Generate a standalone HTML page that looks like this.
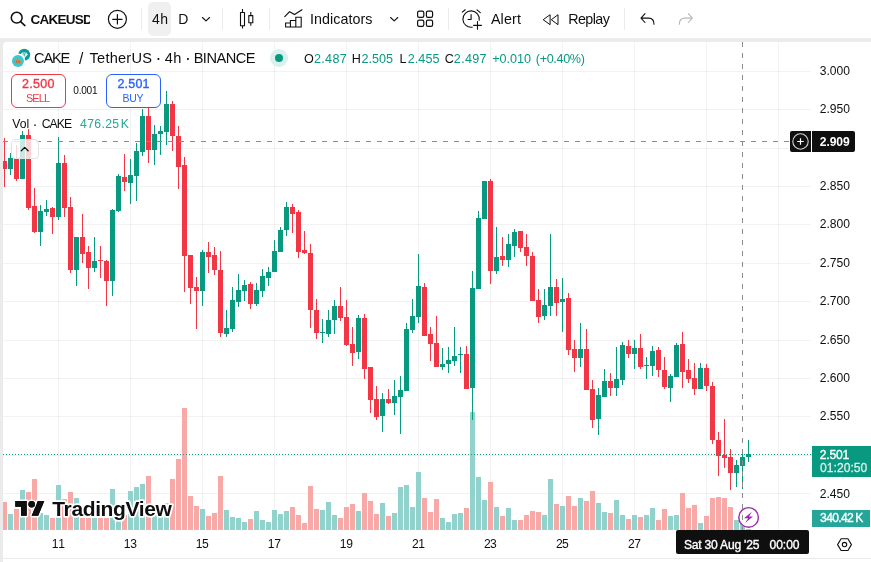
<!DOCTYPE html>
<html lang="en">
<head>
<meta charset="utf-8">
<title>CAKEUSDT 4h chart</title>
<style>
html,body{margin:0;padding:0;}
body{width:871px;height:562px;overflow:hidden;background:#EBEBEB;position:relative;font-family:"Liberation Sans",sans-serif;color:#0F0F0F;}
.abs{position:absolute;white-space:nowrap;}
#toolbar{position:absolute;left:0;top:0;width:871px;height:38px;background:#fff;}
#pane{position:absolute;left:3px;top:42px;width:868px;height:520px;background:#fff;border-top-left-radius:4px;}
#chart{position:absolute;left:0;top:0;}
.tb{position:absolute;top:.6px;height:38px;line-height:38px;font-size:14px;color:#0F0F0F;}
.sep{position:absolute;top:8px;width:1px;height:22px;background:#EBEBEB;}
.ax{position:absolute;left:820px;font-size:12px;line-height:14px;color:#0F0F0F;}
.tl{position:absolute;top:537px;width:40px;margin-left:-20px;text-align:center;font-size:12px;line-height:14px;color:#0F0F0F;}
.lg{position:absolute;top:50px;height:16px;line-height:16px;font-size:13px;white-space:nowrap;}
.t{position:absolute;white-space:nowrap;color:#0F0F0F;}
</style>
</head>
<body>
<div id="toolbar">
  <svg class="abs" style="left:0;top:0" width="871" height="38" viewBox="0 0 871 38" fill="none" stroke="#0F0F0F" stroke-width="1.3" stroke-linecap="round" stroke-linejoin="round">
    <!-- search -->
    <circle cx="16.7" cy="17.7" r="5.4" stroke-width="1.5"/>
    <path d="M20.600 21.600L24.900 25.600" stroke-width="1.500"/>
    <!-- plus circle -->
    <circle cx="117.4" cy="19.3" r="9" stroke-width="1.2"/>
    <path d="M112.7 19.3h9.4M117.4 14.6v9.4" stroke-width="1.2"/>
    <!-- chevron 1 -->
    <path d="M202.400 17.500l3.600 3.300 3.600-3.300" stroke-width="1.100"/>
    <!-- candles icon -->
    <path d="M242.500 9v3.400M242.500 25.800v2.600M250.800 12v3.500M250.800 22.900v2.900" stroke-width="1.100" stroke-linecap="butt"/>
    <rect x="240.500" y="12.500" width="4" height="13.200" stroke-width="1.100"/>
    <rect x="248.800" y="15.600" width="4" height="7.200" stroke-width="1.100"/>
    <!-- indicators icon -->
    <path d="M284.8 16.6l4.8-4.9 4.9 2.9 7.5-4.8" stroke-width="1.2"/>
    <path d="M285.600 27v-4h4.800v4zM290.400 27v-6.500h5.400V27zM295.800 27v-9.800h5.400V27z" stroke-width="1.100" stroke-linejoin="miter"/>
    <!-- chevron 2 -->
    <path d="M390.600 17.500l3.600 3.300 3.600-3.300" stroke-width="1.100"/>
    <!-- layout icon -->
    <rect x="417.6" y="11.2" width="6.2" height="6.2" rx="1.6" stroke-width="1.2"/>
    <rect x="426.4" y="11.2" width="6.2" height="6.2" rx="1.6" stroke-width="1.2"/>
    <rect x="417.6" y="20.2" width="6.2" height="6.2" rx="1.6" stroke-width="1.2"/>
    <rect x="426.4" y="20.2" width="6.2" height="6.2" rx="1.6" stroke-width="1.2"/>
    <!-- alert icon -->
    <path d="M479.200 20.300A8.200 8.200 0 1 0 472.300 27.200" stroke-width="1.100"/>
    <path d="M471.100 14.600v4.900h-3M462.300 12.100l2.900-2.300M477 9.800l3.300 2.900" stroke-width="1.100"/>
    <path d="M473.600 25.400h7.800M477.500 21.500v7.800" stroke-width="1.100"/>
    <!-- replay icon -->
    <path d="M543.500 19.500l6.600-4.800v9.600zM551.600 19.500l6.400-4.800v9.600z" stroke-width="1"/>
    <!-- undo -->
    <path d="M645 13.7l-4 4.4 4 4.4M641.3 18.1h7.4c3.200 0 5.300 2.200 5.300 6.200" stroke-width="1.100"/>
    <!-- redo -->
    <path d="M688.3 13.7l4 4.4-4 4.4M692 18.1h-7.4c-3.200 0-5.300 2.200-5.300 6.200" stroke-width="1.100" stroke="#B8B8B8"/>
  </svg>
  <div class="sep" style="left:141px"></div>
  <div class="abs" style="left:148px;top:2px;width:23px;height:33.500px;border-radius:5px;background:#F0F0F0;"></div>
  <div class="sep" style="left:222px"></div>
  <div class="sep" style="left:269px"></div>
  <div class="sep" style="left:448px"></div>
  <div class="sep" style="left:624px"></div>
</div>
<div id="pane"></div>
<svg id="chart" width="871" height="562" viewBox="0 0 871 562" shape-rendering="crispEdges">
<rect x="3" y="71" width="808" height="1" fill="#000" fill-opacity=".052"/>
<rect x="3" y="109" width="808" height="1" fill="#000" fill-opacity=".052"/>
<rect x="3" y="148" width="808" height="1" fill="#000" fill-opacity=".052"/>
<rect x="3" y="186" width="808" height="1" fill="#000" fill-opacity=".052"/>
<rect x="3" y="224" width="808" height="1" fill="#000" fill-opacity=".052"/>
<rect x="3" y="263" width="808" height="1" fill="#000" fill-opacity=".052"/>
<rect x="3" y="301" width="808" height="1" fill="#000" fill-opacity=".052"/>
<rect x="3" y="340" width="808" height="1" fill="#000" fill-opacity=".052"/>
<rect x="3" y="378" width="808" height="1" fill="#000" fill-opacity=".052"/>
<rect x="3" y="416" width="808" height="1" fill="#000" fill-opacity=".052"/>
<rect x="3" y="455" width="808" height="1" fill="#000" fill-opacity=".052"/>
<rect x="3" y="493" width="808" height="1" fill="#000" fill-opacity=".052"/>
<rect x="58" y="42" width="1" height="488" fill="#000" fill-opacity=".052"/>
<rect x="130" y="42" width="1" height="488" fill="#000" fill-opacity=".052"/>
<rect x="202" y="42" width="1" height="488" fill="#000" fill-opacity=".052"/>
<rect x="274" y="42" width="1" height="488" fill="#000" fill-opacity=".052"/>
<rect x="346" y="42" width="1" height="488" fill="#000" fill-opacity=".052"/>
<rect x="418" y="42" width="1" height="488" fill="#000" fill-opacity=".052"/>
<rect x="490" y="42" width="1" height="488" fill="#000" fill-opacity=".052"/>
<rect x="562" y="42" width="1" height="488" fill="#000" fill-opacity=".052"/>
<rect x="634" y="42" width="1" height="488" fill="#000" fill-opacity=".052"/>
<rect x="706" y="42" width="1" height="488" fill="#000" fill-opacity=".052"/>
<rect x="778" y="42" width="1" height="488" fill="#000" fill-opacity=".052"/>
<rect x="3" y="502" width="4" height="28" fill="#F7A9A7"/>
<rect x="8" y="514" width="5" height="16" fill="#92D2CC"/>
<rect x="14" y="509" width="5" height="21" fill="#F7A9A7"/>
<rect x="20" y="490" width="5" height="40" fill="#92D2CC"/>
<rect x="26" y="492" width="5" height="38" fill="#F7A9A7"/>
<rect x="32" y="479" width="5" height="51" fill="#F7A9A7"/>
<rect x="38" y="513" width="5" height="17" fill="#92D2CC"/>
<rect x="44" y="515" width="5" height="15" fill="#92D2CC"/>
<rect x="50" y="518" width="5" height="12" fill="#F7A9A7"/>
<rect x="56" y="485" width="5" height="45" fill="#92D2CC"/>
<rect x="62" y="499" width="5" height="31" fill="#F7A9A7"/>
<rect x="68" y="492" width="5" height="38" fill="#F7A9A7"/>
<rect x="74" y="498" width="5" height="32" fill="#92D2CC"/>
<rect x="80" y="518" width="5" height="12" fill="#F7A9A7"/>
<rect x="86" y="518" width="5" height="12" fill="#F7A9A7"/>
<rect x="92" y="518" width="5" height="12" fill="#92D2CC"/>
<rect x="98" y="518" width="5" height="12" fill="#F7A9A7"/>
<rect x="104" y="518" width="5" height="12" fill="#F7A9A7"/>
<rect x="110" y="489" width="5" height="41" fill="#92D2CC"/>
<rect x="116" y="520" width="5" height="10" fill="#92D2CC"/>
<rect x="122" y="515" width="5" height="15" fill="#F7A9A7"/>
<rect x="128" y="491" width="5" height="39" fill="#92D2CC"/>
<rect x="134" y="487" width="5" height="43" fill="#92D2CC"/>
<rect x="140" y="484" width="5" height="46" fill="#92D2CC"/>
<rect x="146" y="476" width="5" height="54" fill="#F7A9A7"/>
<rect x="152" y="505" width="5" height="25" fill="#92D2CC"/>
<rect x="158" y="505" width="5" height="25" fill="#92D2CC"/>
<rect x="164" y="503" width="5" height="27" fill="#92D2CC"/>
<rect x="170" y="479" width="5" height="51" fill="#F7A9A7"/>
<rect x="176" y="459" width="5" height="71" fill="#F7A9A7"/>
<rect x="182" y="408" width="5" height="122" fill="#F7A9A7"/>
<rect x="188" y="496" width="5" height="34" fill="#F7A9A7"/>
<rect x="194" y="506" width="5" height="24" fill="#F7A9A7"/>
<rect x="200" y="509" width="5" height="21" fill="#92D2CC"/>
<rect x="206" y="516" width="5" height="14" fill="#F7A9A7"/>
<rect x="212" y="513" width="5" height="17" fill="#F7A9A7"/>
<rect x="218" y="476" width="5" height="54" fill="#F7A9A7"/>
<rect x="224" y="510" width="5" height="20" fill="#92D2CC"/>
<rect x="230" y="517" width="5" height="13" fill="#92D2CC"/>
<rect x="236" y="518" width="5" height="12" fill="#92D2CC"/>
<rect x="242" y="522" width="5" height="8" fill="#92D2CC"/>
<rect x="248" y="519" width="5" height="11" fill="#F7A9A7"/>
<rect x="254" y="511" width="5" height="19" fill="#92D2CC"/>
<rect x="260" y="520" width="5" height="10" fill="#92D2CC"/>
<rect x="266" y="522" width="5" height="8" fill="#92D2CC"/>
<rect x="272" y="510" width="5" height="20" fill="#92D2CC"/>
<rect x="278" y="514" width="5" height="16" fill="#92D2CC"/>
<rect x="284" y="511" width="5" height="19" fill="#92D2CC"/>
<rect x="290" y="507" width="5" height="23" fill="#F7A9A7"/>
<rect x="296" y="515" width="5" height="15" fill="#F7A9A7"/>
<rect x="302" y="523" width="5" height="7" fill="#F7A9A7"/>
<rect x="308" y="486" width="5" height="44" fill="#F7A9A7"/>
<rect x="314" y="509" width="5" height="21" fill="#F7A9A7"/>
<rect x="320" y="510" width="5" height="20" fill="#92D2CC"/>
<rect x="326" y="502" width="5" height="28" fill="#92D2CC"/>
<rect x="332" y="515" width="5" height="15" fill="#92D2CC"/>
<rect x="338" y="518" width="5" height="12" fill="#F7A9A7"/>
<rect x="344" y="507" width="5" height="23" fill="#F7A9A7"/>
<rect x="350" y="504" width="5" height="26" fill="#F7A9A7"/>
<rect x="356" y="511" width="5" height="19" fill="#92D2CC"/>
<rect x="362" y="493" width="5" height="37" fill="#F7A9A7"/>
<rect x="368" y="501" width="5" height="29" fill="#F7A9A7"/>
<rect x="374" y="514" width="5" height="16" fill="#F7A9A7"/>
<rect x="380" y="503" width="5" height="27" fill="#92D2CC"/>
<rect x="386" y="516" width="5" height="14" fill="#F7A9A7"/>
<rect x="392" y="513" width="5" height="17" fill="#92D2CC"/>
<rect x="398" y="487" width="5" height="43" fill="#92D2CC"/>
<rect x="404" y="485" width="5" height="45" fill="#92D2CC"/>
<rect x="410" y="507" width="5" height="23" fill="#92D2CC"/>
<rect x="416" y="472" width="5" height="58" fill="#92D2CC"/>
<rect x="422" y="498" width="5" height="32" fill="#F7A9A7"/>
<rect x="428" y="512" width="5" height="18" fill="#F7A9A7"/>
<rect x="434" y="499" width="5" height="31" fill="#F7A9A7"/>
<rect x="440" y="518" width="5" height="12" fill="#92D2CC"/>
<rect x="446" y="522" width="5" height="8" fill="#92D2CC"/>
<rect x="452" y="514" width="5" height="16" fill="#92D2CC"/>
<rect x="458" y="513" width="5" height="17" fill="#92D2CC"/>
<rect x="464" y="508" width="5" height="22" fill="#F7A9A7"/>
<rect x="470" y="412" width="5" height="118" fill="#92D2CC"/>
<rect x="476" y="477" width="5" height="53" fill="#92D2CC"/>
<rect x="482" y="500" width="5" height="30" fill="#92D2CC"/>
<rect x="488" y="482" width="5" height="48" fill="#F7A9A7"/>
<rect x="494" y="507" width="5" height="23" fill="#92D2CC"/>
<rect x="500" y="516" width="5" height="14" fill="#F7A9A7"/>
<rect x="506" y="508" width="5" height="22" fill="#92D2CC"/>
<rect x="512" y="520" width="5" height="10" fill="#92D2CC"/>
<rect x="518" y="520" width="5" height="10" fill="#F7A9A7"/>
<rect x="524" y="515" width="5" height="15" fill="#F7A9A7"/>
<rect x="530" y="511" width="5" height="19" fill="#F7A9A7"/>
<rect x="536" y="512" width="5" height="18" fill="#F7A9A7"/>
<rect x="542" y="515" width="5" height="15" fill="#92D2CC"/>
<rect x="548" y="479" width="5" height="51" fill="#92D2CC"/>
<rect x="554" y="504" width="5" height="26" fill="#F7A9A7"/>
<rect x="560" y="506" width="5" height="24" fill="#92D2CC"/>
<rect x="566" y="496" width="5" height="34" fill="#F7A9A7"/>
<rect x="572" y="506" width="5" height="24" fill="#F7A9A7"/>
<rect x="578" y="498" width="5" height="32" fill="#92D2CC"/>
<rect x="584" y="501" width="5" height="29" fill="#F7A9A7"/>
<rect x="590" y="491" width="5" height="39" fill="#F7A9A7"/>
<rect x="596" y="503" width="5" height="27" fill="#92D2CC"/>
<rect x="602" y="512" width="5" height="18" fill="#92D2CC"/>
<rect x="608" y="513" width="5" height="17" fill="#F7A9A7"/>
<rect x="614" y="500" width="5" height="30" fill="#92D2CC"/>
<rect x="620" y="515" width="5" height="15" fill="#92D2CC"/>
<rect x="626" y="519" width="5" height="11" fill="#F7A9A7"/>
<rect x="632" y="515" width="5" height="15" fill="#92D2CC"/>
<rect x="638" y="517" width="5" height="13" fill="#F7A9A7"/>
<rect x="644" y="515" width="5" height="15" fill="#92D2CC"/>
<rect x="650" y="508" width="5" height="22" fill="#92D2CC"/>
<rect x="656" y="520" width="5" height="10" fill="#F7A9A7"/>
<rect x="662" y="509" width="5" height="21" fill="#F7A9A7"/>
<rect x="668" y="516" width="5" height="14" fill="#92D2CC"/>
<rect x="674" y="515" width="5" height="15" fill="#92D2CC"/>
<rect x="680" y="493" width="5" height="37" fill="#F7A9A7"/>
<rect x="686" y="508" width="5" height="22" fill="#F7A9A7"/>
<rect x="692" y="505" width="5" height="25" fill="#F7A9A7"/>
<rect x="698" y="523" width="5" height="7" fill="#92D2CC"/>
<rect x="704" y="516" width="5" height="14" fill="#F7A9A7"/>
<rect x="710" y="498" width="5" height="32" fill="#F7A9A7"/>
<rect x="716" y="497" width="5" height="33" fill="#F7A9A7"/>
<rect x="722" y="498" width="5" height="32" fill="#F7A9A7"/>
<rect x="728" y="507" width="5" height="23" fill="#F7A9A7"/>
<rect x="734" y="520" width="5" height="10" fill="#92D2CC"/>
<rect x="740" y="513" width="5" height="17" fill="#92D2CC"/>
<rect x="746" y="529" width="5" height="1" fill="#92D2CC"/>
<rect x="4" y="138" width="1" height="49" fill="#F23645"/>
<rect x="3" y="161" width="4" height="8" fill="#F23645"/>
<rect x="10" y="153" width="1" height="22" fill="#089981"/>
<rect x="8" y="158" width="5" height="11" fill="#089981"/>
<rect x="16" y="145" width="1" height="36" fill="#F23645"/>
<rect x="14" y="158" width="5" height="21" fill="#F23645"/>
<rect x="22" y="131" width="1" height="48" fill="#089981"/>
<rect x="20" y="135" width="5" height="44" fill="#089981"/>
<rect x="28" y="129" width="1" height="81" fill="#F23645"/>
<rect x="26" y="135" width="5" height="73" fill="#F23645"/>
<rect x="34" y="188" width="1" height="45" fill="#F23645"/>
<rect x="32" y="206" width="5" height="26" fill="#F23645"/>
<rect x="40" y="205" width="1" height="41" fill="#089981"/>
<rect x="38" y="211" width="5" height="21" fill="#089981"/>
<rect x="46" y="200" width="1" height="16" fill="#089981"/>
<rect x="44" y="209" width="5" height="3" fill="#089981"/>
<rect x="52" y="207" width="1" height="27" fill="#F23645"/>
<rect x="50" y="208" width="5" height="9" fill="#F23645"/>
<rect x="58" y="137" width="1" height="83" fill="#089981"/>
<rect x="56" y="163" width="5" height="54" fill="#089981"/>
<rect x="64" y="155" width="1" height="62" fill="#F23645"/>
<rect x="62" y="163" width="5" height="45" fill="#F23645"/>
<rect x="70" y="197" width="1" height="76" fill="#F23645"/>
<rect x="68" y="207" width="5" height="63" fill="#F23645"/>
<rect x="76" y="237" width="1" height="49" fill="#089981"/>
<rect x="74" y="237" width="5" height="33" fill="#089981"/>
<rect x="82" y="214" width="1" height="49" fill="#F23645"/>
<rect x="80" y="237" width="5" height="17" fill="#F23645"/>
<rect x="88" y="246" width="1" height="43" fill="#F23645"/>
<rect x="86" y="252" width="5" height="16" fill="#F23645"/>
<rect x="94" y="237" width="1" height="35" fill="#089981"/>
<rect x="92" y="261" width="5" height="7" fill="#089981"/>
<rect x="100" y="246" width="1" height="32" fill="#F23645"/>
<rect x="98" y="260" width="5" height="1" fill="#F23645"/>
<rect x="106" y="260" width="1" height="46" fill="#F23645"/>
<rect x="104" y="261" width="5" height="20" fill="#F23645"/>
<rect x="112" y="209" width="1" height="87" fill="#089981"/>
<rect x="110" y="210" width="5" height="71" fill="#089981"/>
<rect x="118" y="174" width="1" height="38" fill="#089981"/>
<rect x="116" y="176" width="5" height="35" fill="#089981"/>
<rect x="124" y="154" width="1" height="37" fill="#F23645"/>
<rect x="122" y="177" width="5" height="5" fill="#F23645"/>
<rect x="130" y="159" width="1" height="45" fill="#089981"/>
<rect x="128" y="175" width="5" height="8" fill="#089981"/>
<rect x="136" y="143" width="1" height="58" fill="#089981"/>
<rect x="134" y="151" width="5" height="25" fill="#089981"/>
<rect x="142" y="109" width="1" height="47" fill="#089981"/>
<rect x="140" y="116" width="5" height="36" fill="#089981"/>
<rect x="148" y="108" width="1" height="55" fill="#F23645"/>
<rect x="146" y="116" width="5" height="34" fill="#F23645"/>
<rect x="154" y="125" width="1" height="40" fill="#089981"/>
<rect x="152" y="134" width="5" height="16" fill="#089981"/>
<rect x="160" y="126" width="1" height="29" fill="#089981"/>
<rect x="158" y="131" width="5" height="3" fill="#089981"/>
<rect x="166" y="91" width="1" height="54" fill="#089981"/>
<rect x="164" y="104" width="5" height="28" fill="#089981"/>
<rect x="172" y="101" width="1" height="50" fill="#F23645"/>
<rect x="170" y="104" width="5" height="32" fill="#F23645"/>
<rect x="178" y="126" width="1" height="63" fill="#F23645"/>
<rect x="176" y="136" width="5" height="31" fill="#F23645"/>
<rect x="184" y="157" width="1" height="135" fill="#F23645"/>
<rect x="182" y="165" width="5" height="91" fill="#F23645"/>
<rect x="190" y="255" width="1" height="49" fill="#F23645"/>
<rect x="188" y="255" width="5" height="33" fill="#F23645"/>
<rect x="196" y="277" width="1" height="52" fill="#F23645"/>
<rect x="194" y="287" width="5" height="4" fill="#F23645"/>
<rect x="202" y="250" width="1" height="56" fill="#089981"/>
<rect x="200" y="252" width="5" height="39" fill="#089981"/>
<rect x="208" y="242" width="1" height="31" fill="#F23645"/>
<rect x="206" y="252" width="5" height="5" fill="#F23645"/>
<rect x="214" y="247" width="1" height="28" fill="#F23645"/>
<rect x="212" y="255" width="5" height="15" fill="#F23645"/>
<rect x="220" y="251" width="1" height="86" fill="#F23645"/>
<rect x="218" y="270" width="5" height="63" fill="#F23645"/>
<rect x="226" y="310" width="1" height="27" fill="#089981"/>
<rect x="224" y="328" width="5" height="6" fill="#089981"/>
<rect x="232" y="287" width="1" height="45" fill="#089981"/>
<rect x="230" y="300" width="5" height="29" fill="#089981"/>
<rect x="238" y="274" width="1" height="33" fill="#089981"/>
<rect x="236" y="290" width="5" height="12" fill="#089981"/>
<rect x="244" y="280" width="1" height="21" fill="#089981"/>
<rect x="242" y="285" width="5" height="6" fill="#089981"/>
<rect x="250" y="282" width="1" height="27" fill="#F23645"/>
<rect x="248" y="284" width="5" height="20" fill="#F23645"/>
<rect x="256" y="283" width="1" height="23" fill="#089981"/>
<rect x="254" y="290" width="5" height="14" fill="#089981"/>
<rect x="262" y="269" width="1" height="28" fill="#089981"/>
<rect x="260" y="276" width="5" height="15" fill="#089981"/>
<rect x="268" y="267" width="1" height="19" fill="#089981"/>
<rect x="266" y="272" width="5" height="6" fill="#089981"/>
<rect x="274" y="240" width="1" height="32" fill="#089981"/>
<rect x="272" y="251" width="5" height="21" fill="#089981"/>
<rect x="280" y="227" width="1" height="25" fill="#089981"/>
<rect x="278" y="230" width="5" height="22" fill="#089981"/>
<rect x="286" y="202" width="1" height="34" fill="#089981"/>
<rect x="284" y="207" width="5" height="23" fill="#089981"/>
<rect x="292" y="204" width="1" height="29" fill="#F23645"/>
<rect x="290" y="207" width="5" height="7" fill="#F23645"/>
<rect x="298" y="210" width="1" height="48" fill="#F23645"/>
<rect x="296" y="212" width="5" height="40" fill="#F23645"/>
<rect x="304" y="231" width="1" height="23" fill="#F23645"/>
<rect x="302" y="250" width="5" height="3" fill="#F23645"/>
<rect x="310" y="244" width="1" height="84" fill="#F23645"/>
<rect x="308" y="253" width="5" height="57" fill="#F23645"/>
<rect x="316" y="299" width="1" height="40" fill="#F23645"/>
<rect x="314" y="310" width="5" height="23" fill="#F23645"/>
<rect x="322" y="319" width="1" height="24" fill="#089981"/>
<rect x="320" y="332" width="5" height="1" fill="#089981"/>
<rect x="328" y="310" width="1" height="27" fill="#089981"/>
<rect x="326" y="320" width="5" height="14" fill="#089981"/>
<rect x="334" y="300" width="1" height="34" fill="#089981"/>
<rect x="332" y="306" width="5" height="14" fill="#089981"/>
<rect x="340" y="287" width="1" height="34" fill="#F23645"/>
<rect x="338" y="306" width="5" height="12" fill="#F23645"/>
<rect x="346" y="300" width="1" height="46" fill="#F23645"/>
<rect x="344" y="317" width="5" height="28" fill="#F23645"/>
<rect x="352" y="327" width="1" height="39" fill="#F23645"/>
<rect x="350" y="344" width="5" height="9" fill="#F23645"/>
<rect x="358" y="315" width="1" height="44" fill="#089981"/>
<rect x="356" y="318" width="5" height="34" fill="#089981"/>
<rect x="364" y="314" width="1" height="65" fill="#F23645"/>
<rect x="362" y="318" width="5" height="51" fill="#F23645"/>
<rect x="370" y="367" width="1" height="46" fill="#F23645"/>
<rect x="368" y="367" width="5" height="33" fill="#F23645"/>
<rect x="376" y="386" width="1" height="34" fill="#F23645"/>
<rect x="374" y="399" width="5" height="18" fill="#F23645"/>
<rect x="382" y="393" width="1" height="39" fill="#089981"/>
<rect x="380" y="399" width="5" height="17" fill="#089981"/>
<rect x="388" y="389" width="1" height="15" fill="#F23645"/>
<rect x="386" y="399" width="5" height="4" fill="#F23645"/>
<rect x="394" y="380" width="1" height="35" fill="#089981"/>
<rect x="392" y="396" width="5" height="7" fill="#089981"/>
<rect x="400" y="376" width="1" height="58" fill="#089981"/>
<rect x="398" y="390" width="5" height="7" fill="#089981"/>
<rect x="406" y="323" width="1" height="68" fill="#089981"/>
<rect x="404" y="329" width="5" height="62" fill="#089981"/>
<rect x="412" y="299" width="1" height="34" fill="#089981"/>
<rect x="410" y="316" width="5" height="14" fill="#089981"/>
<rect x="418" y="254" width="1" height="69" fill="#089981"/>
<rect x="416" y="286" width="5" height="31" fill="#089981"/>
<rect x="424" y="283" width="1" height="53" fill="#F23645"/>
<rect x="422" y="287" width="5" height="49" fill="#F23645"/>
<rect x="430" y="327" width="1" height="34" fill="#F23645"/>
<rect x="428" y="334" width="5" height="10" fill="#F23645"/>
<rect x="436" y="316" width="1" height="51" fill="#F23645"/>
<rect x="434" y="343" width="5" height="24" fill="#F23645"/>
<rect x="442" y="348" width="1" height="22" fill="#089981"/>
<rect x="440" y="364" width="5" height="3" fill="#089981"/>
<rect x="448" y="347" width="1" height="26" fill="#089981"/>
<rect x="446" y="360" width="5" height="4" fill="#089981"/>
<rect x="454" y="327" width="1" height="39" fill="#089981"/>
<rect x="452" y="356" width="5" height="5" fill="#089981"/>
<rect x="460" y="347" width="1" height="26" fill="#089981"/>
<rect x="458" y="354" width="5" height="1" fill="#089981"/>
<rect x="466" y="346" width="1" height="43" fill="#F23645"/>
<rect x="464" y="354" width="5" height="35" fill="#F23645"/>
<rect x="472" y="271" width="1" height="149" fill="#089981"/>
<rect x="470" y="288" width="5" height="100" fill="#089981"/>
<rect x="478" y="211" width="1" height="78" fill="#089981"/>
<rect x="476" y="218" width="5" height="71" fill="#089981"/>
<rect x="484" y="181" width="1" height="38" fill="#089981"/>
<rect x="482" y="181" width="5" height="38" fill="#089981"/>
<rect x="490" y="179" width="1" height="105" fill="#F23645"/>
<rect x="488" y="181" width="5" height="90" fill="#F23645"/>
<rect x="496" y="227" width="1" height="47" fill="#089981"/>
<rect x="494" y="257" width="5" height="14" fill="#089981"/>
<rect x="502" y="237" width="1" height="29" fill="#F23645"/>
<rect x="500" y="256" width="5" height="4" fill="#F23645"/>
<rect x="508" y="234" width="1" height="33" fill="#089981"/>
<rect x="506" y="244" width="5" height="16" fill="#089981"/>
<rect x="514" y="229" width="1" height="28" fill="#089981"/>
<rect x="512" y="232" width="5" height="14" fill="#089981"/>
<rect x="520" y="231" width="1" height="21" fill="#F23645"/>
<rect x="518" y="231" width="5" height="17" fill="#F23645"/>
<rect x="526" y="234" width="1" height="32" fill="#F23645"/>
<rect x="524" y="247" width="5" height="9" fill="#F23645"/>
<rect x="532" y="252" width="1" height="49" fill="#F23645"/>
<rect x="530" y="256" width="5" height="45" fill="#F23645"/>
<rect x="538" y="289" width="1" height="34" fill="#F23645"/>
<rect x="536" y="300" width="5" height="17" fill="#F23645"/>
<rect x="544" y="289" width="1" height="31" fill="#089981"/>
<rect x="542" y="305" width="5" height="11" fill="#089981"/>
<rect x="550" y="234" width="1" height="82" fill="#089981"/>
<rect x="548" y="287" width="5" height="19" fill="#089981"/>
<rect x="556" y="279" width="1" height="37" fill="#F23645"/>
<rect x="554" y="287" width="5" height="16" fill="#F23645"/>
<rect x="562" y="278" width="1" height="54" fill="#089981"/>
<rect x="560" y="299" width="5" height="3" fill="#089981"/>
<rect x="568" y="293" width="1" height="62" fill="#F23645"/>
<rect x="566" y="298" width="5" height="52" fill="#F23645"/>
<rect x="574" y="340" width="1" height="32" fill="#F23645"/>
<rect x="572" y="349" width="5" height="9" fill="#F23645"/>
<rect x="580" y="323" width="1" height="44" fill="#089981"/>
<rect x="578" y="349" width="5" height="9" fill="#089981"/>
<rect x="586" y="329" width="1" height="61" fill="#F23645"/>
<rect x="584" y="349" width="5" height="41" fill="#F23645"/>
<rect x="592" y="380" width="1" height="48" fill="#F23645"/>
<rect x="590" y="389" width="5" height="31" fill="#F23645"/>
<rect x="598" y="388" width="1" height="47" fill="#089981"/>
<rect x="596" y="395" width="5" height="24" fill="#089981"/>
<rect x="604" y="369" width="1" height="28" fill="#089981"/>
<rect x="602" y="381" width="5" height="16" fill="#089981"/>
<rect x="610" y="373" width="1" height="23" fill="#F23645"/>
<rect x="608" y="381" width="5" height="7" fill="#F23645"/>
<rect x="616" y="347" width="1" height="49" fill="#089981"/>
<rect x="614" y="379" width="5" height="9" fill="#089981"/>
<rect x="622" y="342" width="1" height="43" fill="#089981"/>
<rect x="620" y="345" width="5" height="35" fill="#089981"/>
<rect x="628" y="340" width="1" height="18" fill="#F23645"/>
<rect x="626" y="346" width="5" height="8" fill="#F23645"/>
<rect x="634" y="340" width="1" height="29" fill="#089981"/>
<rect x="632" y="348" width="5" height="6" fill="#089981"/>
<rect x="640" y="334" width="1" height="35" fill="#F23645"/>
<rect x="638" y="348" width="5" height="19" fill="#F23645"/>
<rect x="646" y="357" width="1" height="22" fill="#089981"/>
<rect x="644" y="365" width="5" height="1" fill="#089981"/>
<rect x="652" y="346" width="1" height="30" fill="#089981"/>
<rect x="650" y="351" width="5" height="15" fill="#089981"/>
<rect x="658" y="347" width="1" height="30" fill="#F23645"/>
<rect x="656" y="350" width="5" height="20" fill="#F23645"/>
<rect x="664" y="357" width="1" height="32" fill="#F23645"/>
<rect x="662" y="370" width="5" height="17" fill="#F23645"/>
<rect x="670" y="374" width="1" height="28" fill="#089981"/>
<rect x="668" y="376" width="5" height="12" fill="#089981"/>
<rect x="676" y="343" width="1" height="34" fill="#089981"/>
<rect x="674" y="345" width="5" height="32" fill="#089981"/>
<rect x="682" y="332" width="1" height="56" fill="#F23645"/>
<rect x="680" y="344" width="5" height="28" fill="#F23645"/>
<rect x="688" y="359" width="1" height="24" fill="#F23645"/>
<rect x="686" y="370" width="5" height="9" fill="#F23645"/>
<rect x="694" y="363" width="1" height="32" fill="#F23645"/>
<rect x="692" y="378" width="5" height="11" fill="#F23645"/>
<rect x="700" y="363" width="1" height="26" fill="#089981"/>
<rect x="698" y="368" width="5" height="21" fill="#089981"/>
<rect x="706" y="364" width="1" height="27" fill="#F23645"/>
<rect x="704" y="368" width="5" height="18" fill="#F23645"/>
<rect x="712" y="382" width="1" height="62" fill="#F23645"/>
<rect x="710" y="386" width="5" height="54" fill="#F23645"/>
<rect x="718" y="432" width="1" height="44" fill="#F23645"/>
<rect x="716" y="440" width="5" height="16" fill="#F23645"/>
<rect x="724" y="419" width="1" height="49" fill="#F23645"/>
<rect x="722" y="455" width="5" height="3" fill="#F23645"/>
<rect x="730" y="449" width="1" height="41" fill="#F23645"/>
<rect x="728" y="457" width="5" height="16" fill="#F23645"/>
<rect x="736" y="460" width="1" height="27" fill="#089981"/>
<rect x="734" y="465" width="5" height="8" fill="#089981"/>
<rect x="742" y="451" width="1" height="38" fill="#089981"/>
<rect x="740" y="457" width="5" height="9" fill="#089981"/>
<rect x="748" y="440" width="1" height="22" fill="#089981"/>
<rect x="746" y="454" width="5" height="3" fill="#089981"/>
<!-- current price dotted line -->
<line x1="3" y1="454.5" x2="811" y2="454.5" stroke="#089981" stroke-width="1" stroke-dasharray="1 2"/>
<!-- crosshair -->
<line x1="3" y1="141.5" x2="790" y2="141.5" stroke="#8C8C8C" stroke-width="1" stroke-dasharray="5 6"/>
<line x1="742.5" y1="42" x2="742.5" y2="530" stroke="#8C8C8C" stroke-width="1" stroke-dasharray="5 6"/>
<!-- bottom border -->
<rect x="3" y="558" width="868" height="1" fill="#EBEBEB"/>
</svg>

<!-- legend -->
<svg class="abs" style="left:10px;top:46px" width="24" height="24" viewBox="0 0 24 24">
  <circle cx="14.200" cy="8.700" r="6" fill="#0C9B98"/>
  <path d="M12.200 6.500h4l1.700 2-3.700 3.800-3.700-3.800z" fill="#fff" opacity=".88"/>
  <path d="M12.700 7.500h3v.8h-1.100v2h-.8v-2h-1.100z" fill="#0C9B98"/>
  <circle cx="7.960" cy="14.940" r="7.400" fill="#fff"/>
  <circle cx="7.960" cy="14.940" r="6" fill="#38C9D9"/>
  <path d="M5.900 14.200c-.5-1.700 1.100-2.300 1.400-.7h1.300c.3-1.600 1.900-1 1.400.7 1 .4 1.500 1.100 1.500 1.800 0 1.400-1.600 2.200-3.540 2.200s-3.540-.8-3.540-2.200c0-.7.500-1.400 1.480-1.800z" fill="#D1884F"/>
  <circle cx="6.700" cy="15.700" r=".55" fill="#7A4A1E"/><circle cx="9.200" cy="15.700" r=".55" fill="#7A4A1E"/>
</svg>
<div class="abs" style="left:270px;top:49px;width:18px;height:18px;border-radius:9px;background:#d9f0ec;"></div>
<div class="abs" style="left:275px;top:54px;width:8px;height:8px;border-radius:4px;background:#089981;"></div>

<!-- sell / buy -->
<div class="abs" style="left:11px;top:74px;width:53px;height:32px;border:1px solid #F23645;border-radius:6px;background:#fff;"></div>
<div class="abs" style="left:106px;top:74px;width:53px;height:32px;border:1px solid #2962FF;border-radius:6px;background:#fff;"></div>

<!-- volume legend -->
<div class="abs" style="left:11.200px;top:139.200px;width:26px;height:18px;border:1px solid #E3E3E3;border-radius:4px;background:rgba(255,255,255,.78);"></div>
<svg class="abs" style="left:11.200px;top:139.200px" width="28" height="20" viewBox="0 0 28 20" fill="none" stroke="#0F0F0F" stroke-width="1.3" stroke-linecap="round" stroke-linejoin="round"><path d="M10.300 11.800l3.400-3.400 3.400 3.400"/></svg>

<!-- price axis -->

<!-- crosshair price label -->
<div class="abs" style="left:790px;top:131px;width:21px;height:21px;background:#0F0F0F;border-radius:2px 0 0 2px;"></div>
<svg class="abs" style="left:790px;top:131px" width="21" height="21" viewBox="0 0 21 21" fill="none" stroke="#fff" stroke-width="1.200"><circle cx="10.500" cy="10.500" r="7.700" stroke="#D6D6D6" stroke-width="1.100"/><path d="M7.200 10.500h6.600M10.500 7.200v6.600"/></svg>
<div class="abs" style="left:812px;top:131px;width:43px;height:21px;background:#0F0F0F;border-radius:0 2px 2px 0;"></div>

<!-- current price label -->
<div class="abs" style="left:811.500px;top:446px;width:60px;height:30.500px;background:#089981;color:#fff;font-size:12px;"></div>
<!-- volume label -->
<div class="abs" style="left:811.500px;top:510px;width:58.500px;height:16.500px;background:#26a69a;color:#fff;font-size:12px;font-weight:bold;line-height:16.500px;"></div>

<!-- time axis -->
<div class="abs" style="left:676px;top:530px;width:132.500px;height:23.500px;background:#0F0F0F;border-radius:2px;color:#fff;font-size:12px;font-weight:bold;line-height:28px;"></div>

<div class="t" style="left:30.500px;top:11px;width:59px;overflow:hidden;font-weight:bold;font-size:13.500px;line-height:17px;letter-spacing:-.75px;">CAKEUSDT</div>
<div class="t" style="left:151.95px;top:11.13px;font-size:14px;line-height:16px;letter-spacing:0.62px;">4h</div>
<div class="t" style="left:178.18px;top:11.13px;font-size:14px;line-height:16px;">D</div>
<div class="t" style="left:309.91px;top:11.23px;font-size:14.3px;line-height:16px;letter-spacing:0.07px;">Indicators</div>
<div class="t" style="left:490.93px;top:11.23px;font-size:14.3px;line-height:16px;letter-spacing:0.16px;">Alert</div>
<div class="t" style="left:568.16px;top:11.23px;font-size:14.3px;line-height:16px;letter-spacing:-0.57px;">Replay</div>
<div class="t" style="left:34.07px;top:50.34px;font-size:14.6px;line-height:16px;letter-spacing:-1.17px;">CAKE</div>
<div class="t" style="left:79px;top:49.68px;font-size:15.6px;line-height:17px;">/</div>
<div class="t" style="left:89.54px;top:50.34px;font-size:14.6px;line-height:16px;letter-spacing:0.22px;">TetherUS</div>
<div class="t" style="left:155.49px;top:48.37px;font-size:17.6px;line-height:20px;">·</div>
<div class="t" style="left:164.63px;top:50.34px;font-size:14.6px;line-height:16px;letter-spacing:0.61px;">4h</div>
<div class="t" style="left:185.09px;top:48.37px;font-size:17.6px;line-height:20px;">·</div>
<div class="t" style="left:193.63px;top:50.34px;font-size:14.6px;line-height:16px;letter-spacing:-0.49px;">BINANCE</div>
<div class="t" style="left:303.93px;top:51.75px;font-size:12.6px;line-height:14px;">O</div>
<div class="t" style="left:313.97px;top:51.75px;font-size:12.6px;line-height:14px;letter-spacing:0.31px;color:#089981;">2.487</div>
<div class="t" style="left:351.79px;top:51.75px;font-size:12.6px;line-height:14px;">H</div>
<div class="t" style="left:361.47px;top:51.75px;font-size:12.6px;line-height:14px;letter-spacing:0.03px;color:#089981;">2.505</div>
<div class="t" style="left:399.59px;top:51.75px;font-size:12.6px;line-height:14px;">L</div>
<div class="t" style="left:407.67px;top:51.75px;font-size:12.6px;line-height:14px;letter-spacing:0.08px;color:#089981;">2.455</div>
<div class="t" style="left:444.77px;top:51.75px;font-size:12.6px;line-height:14px;">C</div>
<div class="t" style="left:453.87px;top:51.75px;font-size:12.6px;line-height:14px;letter-spacing:0.31px;color:#089981;">2.497</div>
<div class="t" style="left:492.27px;top:51.75px;font-size:12.6px;line-height:14px;letter-spacing:-0.03px;color:#089981;">+0.010</div>
<div class="t" style="left:535.84px;top:51.75px;font-size:12.6px;line-height:14px;letter-spacing:-0.34px;color:#089981;">(+0.40%)</div>
<div class="t" style="left:21.88px;top:76.81px;font-size:12.5px;line-height:14px;letter-spacing:0.34px;color:#F23645;-webkit-text-stroke:.35px currentColor;">2.500</div>
<div class="t" style="left:25.91px;top:91.86px;font-size:10.9px;line-height:12px;letter-spacing:-0.81px;color:#F23645;">SELL</div>
<div class="t" style="left:73.3px;top:84.98px;font-size:10.1px;line-height:11px;letter-spacing:-0.24px;">0.001</div>
<div class="t" style="left:117.47px;top:76.81px;font-size:12.5px;line-height:14px;letter-spacing:0.2px;color:#2962FF;-webkit-text-stroke:.35px currentColor;">2.501</div>
<div class="t" style="left:122.56px;top:91.92px;font-size:10.5px;line-height:12px;letter-spacing:-0.31px;color:#2962FF;">BUY</div>
<div class="t" style="left:12.34px;top:117.41px;font-size:12.2px;line-height:14px;">Vol</div>
<div class="t" style="left:32.5px;top:115.38px;font-size:15px;line-height:17px;">·</div>
<div class="t" style="left:41.69px;top:117.41px;font-size:12.2px;line-height:14px;letter-spacing:-0.93px;">CAKE</div>
<div class="t" style="left:80.09px;top:117.41px;font-size:12.2px;line-height:14px;letter-spacing:0.35px;color:#26a69a;">476.25</div>
<div class="t" style="left:120.82px;top:117.41px;font-size:12.2px;line-height:14px;color:#26a69a;">K</div>
<div class="t" style="left:819.82px;top:63.87px;font-size:12.1px;line-height:14px;letter-spacing:-0.02px;">3.000</div>
<div class="t" style="left:819.69px;top:101.87px;font-size:12.1px;line-height:14px;letter-spacing:0.01px;">2.950</div>
<div class="t" style="left:819.69px;top:178.87px;font-size:12.1px;line-height:14px;letter-spacing:0.01px;">2.850</div>
<div class="t" style="left:819.69px;top:216.87px;font-size:12.1px;line-height:14px;letter-spacing:0.01px;">2.800</div>
<div class="t" style="left:819.69px;top:255.87px;font-size:12.1px;line-height:14px;letter-spacing:0.01px;">2.750</div>
<div class="t" style="left:819.69px;top:293.87px;font-size:12.1px;line-height:14px;letter-spacing:0.01px;">2.700</div>
<div class="t" style="left:819.69px;top:332.87px;font-size:12.1px;line-height:14px;letter-spacing:0.01px;">2.650</div>
<div class="t" style="left:819.69px;top:370.87px;font-size:12.1px;line-height:14px;letter-spacing:0.01px;">2.600</div>
<div class="t" style="left:819.69px;top:408.87px;font-size:12.1px;line-height:14px;letter-spacing:0.01px;">2.550</div>
<div class="t" style="left:819.69px;top:486.87px;font-size:12.1px;line-height:14px;letter-spacing:0.01px;">2.450</div>
<div class="t" style="left:819.78px;top:134.67px;font-size:12.1px;line-height:14px;letter-spacing:-0.1px;font-weight:bold;color:#fff;">2.909</div>
<div class="t" style="left:819.79px;top:447.77px;font-size:12.1px;line-height:14px;letter-spacing:-0.18px;color:#fff;-webkit-text-stroke:.35px currentColor;">2.501</div>
<div class="t" style="left:820.12px;top:461.37px;font-size:12.1px;line-height:14px;letter-spacing:0.01px;color:rgba(255,255,255,.8);-webkit-text-stroke:.3px currentColor;">01:20:50</div>
<div class="t" style="left:820.12px;top:511.47px;font-size:12.1px;line-height:14px;letter-spacing:-0.65px;color:#fff;-webkit-text-stroke:.35px currentColor;">340.42</div>
<div class="t" style="left:855.33px;top:511.47px;font-size:12.1px;line-height:14px;color:#fff;-webkit-text-stroke:.35px currentColor;">K</div>
<div class="t" style="left:51.79px;top:537.07px;font-size:12.1px;line-height:14px;letter-spacing:0.59px;">11</div>
<div class="t" style="left:123.79px;top:537.07px;font-size:12.1px;line-height:14px;letter-spacing:-0.38px;">13</div>
<div class="t" style="left:195.79px;top:537.07px;font-size:12.1px;line-height:14px;letter-spacing:-0.44px;">15</div>
<div class="t" style="left:267.79px;top:537.07px;font-size:12.1px;line-height:14px;letter-spacing:-0.32px;">17</div>
<div class="t" style="left:339.79px;top:537.07px;font-size:12.1px;line-height:14px;letter-spacing:-0.38px;">19</div>
<div class="t" style="left:412.09px;top:537.07px;font-size:12.1px;line-height:14px;letter-spacing:-0.62px;">21</div>
<div class="t" style="left:484.09px;top:537.07px;font-size:12.1px;line-height:14px;letter-spacing:-0.68px;">23</div>
<div class="t" style="left:556.1px;top:537.07px;font-size:12.1px;line-height:14px;letter-spacing:-0.74px;">25</div>
<div class="t" style="left:628.1px;top:537.07px;font-size:12.1px;line-height:14px;letter-spacing:-0.62px;">27</div>
<div class="t" style="left:683.96px;top:537.67px;font-size:12.1px;line-height:14px;letter-spacing:-0.22px;color:#fff;-webkit-text-stroke:.35px currentColor;">Sat 30 Aug '25</div>
<div class="t" style="left:769.52px;top:537.67px;font-size:12.1px;line-height:14px;letter-spacing:-0.05px;color:#fff;-webkit-text-stroke:.35px currentColor;">00:00</div>
<!-- lightning -->
<svg class="abs" style="left:736px;top:505px" width="26" height="26" viewBox="0 0 26 26"><circle cx="12.600" cy="12.450" r="9.800" fill="#fff" stroke="#9C27B0" stroke-width="1.400"/><path d="M15.900 6.800L8 13.200h4.200l-3.100 4.700 7.800-6.300H13z" fill="#9C27B0"/></svg>
<svg class="abs" style="left:742px;top:504px" width="1" height="26" viewBox="0 0 1 26" shape-rendering="crispEdges"><path d="M.5 0v5M.5 11v5M.5 22v4" stroke="#8C8C8C" stroke-width="1" fill="none"/></svg>
<!-- axis settings hexagon -->
<svg class="abs" style="left:834px;top:534px" width="22" height="22" viewBox="0 0 22 22" fill="none" stroke="#0F0F0F" stroke-width="1.100" stroke-linejoin="round"><path d="M7.100 4.700h6.800l3.500 5.900-3.500 5.900H7.100L3.600 10.600z"/><circle cx="10.500" cy="10.600" r="2.200"/></svg>

<!-- TradingView logo -->
<svg class="abs" style="left:8px;top:492px" width="180" height="36" viewBox="0 0 180 36">
  <g transform="translate(7.300 5.800) scale(.817)" stroke="#fff" stroke-width="4" stroke-linejoin="round" fill="#0F0F0F" paint-order="stroke">
    <path d="M14 22H7V11H0V4h14v18zM28 22h-8l7.500-18h8L28 22z"/><circle cx="20" cy="8" r="4"/>
  </g>
  <g transform="translate(7.300 5.800) scale(.817)" fill="#0F0F0F">
    <path d="M14 22H7V11H0V4h14v18zM28 22h-8l7.500-18h8L28 22z"/><circle cx="20" cy="8" r="4"/>
  </g>
  <text x="44.300" y="23.700" font-family="Liberation Sans, sans-serif" font-weight="bold" font-size="21" fill="#0F0F0F" stroke="#fff" stroke-width="3.500" stroke-linejoin="round" paint-order="stroke" letter-spacing="-.38">TradingView</text>
</svg>
</body>
</html>
